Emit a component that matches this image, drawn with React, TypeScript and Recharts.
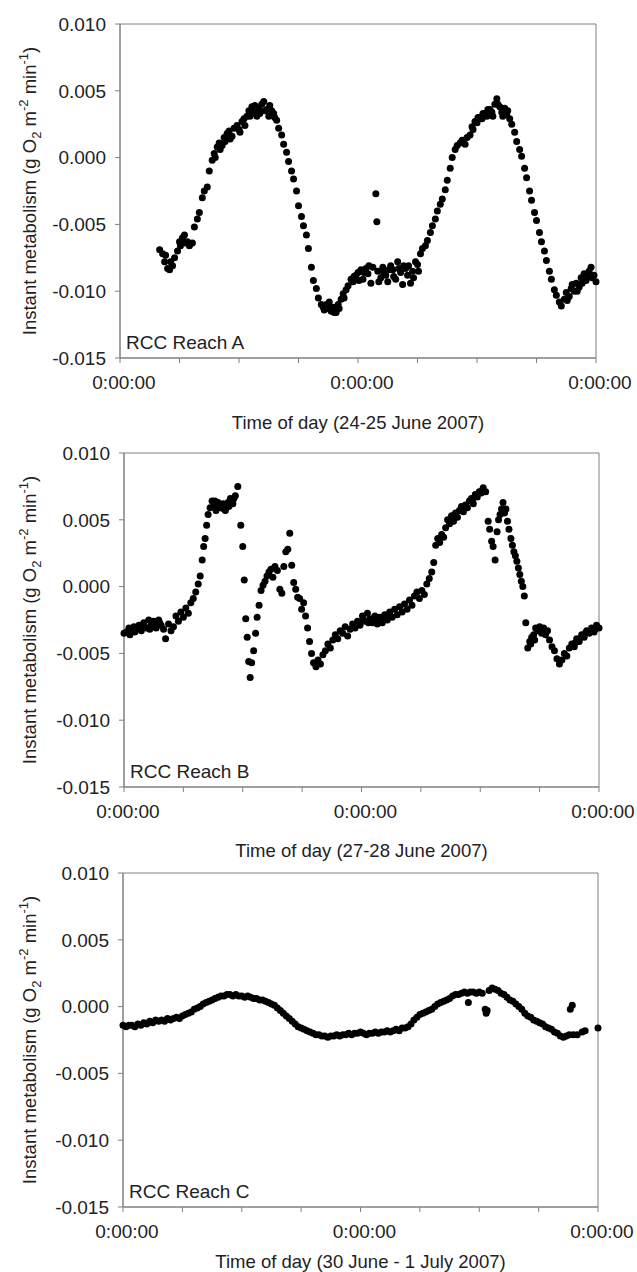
import React from 'react';
import { ScatterChart, Scatter, XAxis, YAxis, ReferenceArea } from 'recharts';

// [hour since first midnight, instant metabolism g O2 m-2 min-1]
type Pt = [number, number];

const reachA: Pt[] = [
  [4.0, -0.0069], [4.3, -0.0072], [4.5, -0.0078], [4.6, -0.0073], [4.8, -0.0083], [5.0, -0.0084],
  [5.1, -0.0078], [5.3, -0.0081], [5.5, -0.0075], [5.8, -0.007], [6.0, -0.0063], [6.1, -0.0066],
  [6.3, -0.006], [6.5, -0.0058], [6.6, -0.0064], [6.8, -0.0063], [7.0, -0.0066], [7.3, -0.0064],
  [7.5, -0.0052], [7.8, -0.0046], [8.0, -0.0041], [8.3, -0.003], [8.5, -0.0025], [8.8, -0.0022],
  [9.0, -0.001], [9.3, -0.0002], [9.5, 0.0003], [9.6, 0.0], [9.8, 0.0008], [10.0, 0.0011],
  [10.1, 0.0006], [10.3, 0.0009], [10.5, 0.0015], [10.6, 0.0012], [10.8, 0.0018], [11.0, 0.002],
  [11.1, 0.0014], [11.3, 0.0016], [11.5, 0.0022], [11.8, 0.0024], [12.0, 0.0021], [12.1, 0.0019],
  [12.3, 0.0027], [12.5, 0.0029], [12.6, 0.0024], [12.8, 0.0031], [13.0, 0.0035], [13.1, 0.0031],
  [13.3, 0.0038], [13.5, 0.0034], [13.6, 0.0039], [13.8, 0.0031], [14.0, 0.0037], [14.1, 0.0033],
  [14.3, 0.004], [14.5, 0.0042], [14.6, 0.0035], [14.8, 0.0036], [15.0, 0.0031], [15.1, 0.0039],
  [15.3, 0.0035], [15.5, 0.0033], [15.6, 0.003], [15.8, 0.0028], [16.0, 0.0022], [16.3, 0.0017],
  [16.5, 0.001], [16.8, 0.0004], [17.0, -0.0003], [17.3, -0.001], [17.5, -0.0016], [17.8, -0.0025],
  [18.0, -0.0036], [18.3, -0.0044], [18.5, -0.0051], [18.8, -0.0058], [19.0, -0.0068], [19.3, -0.0082],
  [19.5, -0.0092], [19.8, -0.0098], [20.0, -0.0105], [20.3, -0.011], [20.5, -0.0112], [20.6, -0.0114],
  [20.8, -0.011], [21.0, -0.0113], [21.1, -0.0108], [21.3, -0.0115], [21.5, -0.0112], [21.6, -0.0116],
  [21.8, -0.0116], [22.0, -0.011], [22.1, -0.0113], [22.3, -0.0106], [22.5, -0.0102], [22.6, -0.0105],
  [22.8, -0.0099], [23.0, -0.0096], [23.3, -0.0091], [23.5, -0.0093], [23.6, -0.0089], [23.8, -0.0088],
  [24.0, -0.0086], [24.1, -0.0092], [24.3, -0.0084], [24.5, -0.0091], [24.6, -0.0086], [24.8, -0.0083],
  [25.0, -0.0087], [25.1, -0.0081], [25.3, -0.0094], [25.5, -0.0082], [25.8, -0.0027], [25.9, -0.0048],
  [26.0, -0.0085], [26.1, -0.0093], [26.3, -0.009], [26.5, -0.0082], [26.6, -0.0086], [26.8, -0.0088],
  [27.0, -0.0093], [27.1, -0.0084], [27.3, -0.0081], [27.5, -0.0084], [27.6, -0.0089], [27.8, -0.0091],
  [28.0, -0.0078], [28.1, -0.0083], [28.3, -0.0086], [28.5, -0.0095], [28.6, -0.0081], [28.8, -0.0083],
  [29.0, -0.0088], [29.1, -0.0081], [29.3, -0.0094], [29.5, -0.0085], [29.6, -0.009], [29.8, -0.0078],
  [30.0, -0.008], [30.1, -0.0085], [30.3, -0.0072], [30.5, -0.0068], [30.8, -0.0066], [31.0, -0.0062],
  [31.3, -0.0056], [31.5, -0.0051], [31.8, -0.0046], [32.0, -0.004], [32.3, -0.0035], [32.5, -0.0031],
  [32.8, -0.0024], [33.0, -0.0017], [33.3, -0.0008], [33.5, 0.0], [33.8, 0.0006], [34.0, 0.0009],
  [34.3, 0.0011], [34.5, 0.0013], [34.8, 0.001], [35.0, 0.0015], [35.3, 0.0017], [35.5, 0.0023],
  [35.6, 0.0021], [35.8, 0.0027], [36.0, 0.0026], [36.1, 0.003], [36.3, 0.003], [36.5, 0.0029],
  [36.6, 0.0033], [36.8, 0.0033], [37.0, 0.0031], [37.1, 0.0036], [37.3, 0.0036], [37.5, 0.0034],
  [37.6, 0.0031], [37.8, 0.004], [38.0, 0.0044], [38.1, 0.004], [38.3, 0.0038], [38.5, 0.0034],
  [38.6, 0.0031], [38.8, 0.0037], [39.0, 0.0032], [39.1, 0.0035], [39.3, 0.0029], [39.5, 0.0025],
  [39.8, 0.0019], [40.0, 0.0012], [40.3, 0.0006], [40.5, 0.0001], [40.8, -0.0008], [41.0, -0.0015],
  [41.3, -0.0025], [41.5, -0.0032], [41.8, -0.0041], [42.0, -0.0047], [42.3, -0.0056], [42.5, -0.0063],
  [42.8, -0.007], [43.0, -0.0077], [43.3, -0.0085], [43.5, -0.0091], [43.8, -0.0099], [44.0, -0.0103],
  [44.3, -0.0108], [44.5, -0.0111], [44.8, -0.0106], [45.0, -0.0101], [45.1, -0.0107], [45.3, -0.0104],
  [45.5, -0.0098], [45.6, -0.0095], [45.8, -0.01], [46.0, -0.0094], [46.1, -0.01], [46.3, -0.0097],
  [46.5, -0.009], [46.6, -0.0094], [46.8, -0.0087], [47.0, -0.0092], [47.1, -0.0088], [47.3, -0.0085],
  [47.5, -0.0082], [47.6, -0.009], [47.8, -0.0088], [48.0, -0.0093],
];

const reachB: Pt[] = [
  [0.0, -0.0035], [0.25, -0.0034], [0.5, -0.0031], [0.6, -0.0036], [0.75, -0.0033], [1.0, -0.003],
  [1.1, -0.0034], [1.25, -0.0032], [1.5, -0.0029], [1.6, -0.0031], [1.75, -0.0033], [2.0, -0.0027],
  [2.1, -0.003], [2.25, -0.0031], [2.5, -0.0025], [2.6, -0.0032], [2.75, -0.0029], [3.0, -0.0026],
  [3.1, -0.0029], [3.25, -0.0031], [3.5, -0.0025], [3.6, -0.0027], [3.75, -0.0029], [4.0, -0.0032],
  [4.2, -0.0039], [4.5, -0.0028], [4.75, -0.0033], [5.0, -0.003], [5.25, -0.0022], [5.5, -0.0026],
  [5.75, -0.0019], [6.0, -0.0023], [6.25, -0.0016], [6.5, -0.002], [6.75, -0.0012], [7.0, -0.0009],
  [7.25, -0.0004], [7.5, 0.0002], [7.7, 0.0008], [7.9, 0.002], [8.05, 0.003], [8.2, 0.0036],
  [8.35, 0.0046], [8.5, 0.0054], [8.7, 0.0059], [8.9, 0.0064], [9.1, 0.0061], [9.2, 0.0064],
  [9.3, 0.0057], [9.5, 0.0063], [9.6, 0.006], [9.75, 0.0059], [10.0, 0.0062], [10.1, 0.0058],
  [10.25, 0.0057], [10.5, 0.0063], [10.6, 0.006], [10.75, 0.0066], [11.0, 0.0062], [11.1, 0.0066],
  [11.25, 0.0068], [11.5, 0.0075], [11.8, 0.0046], [12.0, 0.003], [12.15, 0.0005], [12.3, -0.0024],
  [12.45, -0.0038], [12.6, -0.0056], [12.75, -0.0068], [12.9, -0.0057], [13.1, -0.0048], [13.3, -0.0035],
  [13.45, -0.0023], [13.65, -0.0014], [13.85, -0.0003], [14.05, 0.0001], [14.25, 0.0004], [14.45, 0.0008],
  [14.65, 0.0011], [14.85, 0.0013], [15.05, 0.0007], [15.25, 0.0015], [15.5, 0.0012], [15.75, -0.0002],
  [15.95, -0.0005], [16.15, 0.0015], [16.35, 0.0026], [16.55, 0.0028], [16.75, 0.004], [16.95, 0.0016],
  [17.15, 0.0003], [17.35, -0.0002], [17.55, -0.0008], [17.75, -0.0009], [17.95, -0.0017], [18.15, -0.0012],
  [18.35, -0.0022], [18.55, -0.0031], [18.75, -0.0041], [18.95, -0.005], [19.15, -0.0057], [19.4, -0.006],
  [19.6, -0.0055], [19.85, -0.0058], [20.1, -0.0051], [20.35, -0.0048], [20.6, -0.0043], [20.85, -0.0046],
  [21.1, -0.004], [21.35, -0.0036], [21.6, -0.0039], [21.85, -0.0033], [22.1, -0.0035], [22.35, -0.003],
  [22.6, -0.0037], [22.85, -0.0032], [23.1, -0.0028], [23.35, -0.0031], [23.6, -0.0026], [23.85, -0.0029],
  [24.1, -0.0022], [24.2, -0.0025], [24.35, -0.0026], [24.6, -0.002], [24.7, -0.0027], [24.85, -0.0024],
  [25.1, -0.0027], [25.2, -0.0024], [25.35, -0.0022], [25.6, -0.0028], [25.7, -0.0025], [25.85, -0.0023],
  [26.1, -0.0027], [26.2, -0.0024], [26.35, -0.0021], [26.6, -0.0025], [26.7, -0.0022], [26.85, -0.0019],
  [27.1, -0.0023], [27.35, -0.0017], [27.6, -0.0021], [27.85, -0.0015], [28.1, -0.0019], [28.35, -0.0013],
  [28.6, -0.0017], [28.85, -0.001], [29.1, -0.0014], [29.35, -0.0007], [29.6, -0.0004], [29.85, -0.0009],
  [30.1, -0.0003], [30.35, -0.0006], [30.6, 0.0002], [30.85, 0.0006], [31.1, 0.0011], [31.3, 0.0018],
  [31.5, 0.0031], [31.7, 0.0036], [31.9, 0.0033], [32.1, 0.0039], [32.3, 0.0037], [32.5, 0.0044],
  [32.7, 0.005], [32.9, 0.0047], [33.1, 0.0053], [33.2, 0.005], [33.3, 0.0049], [33.5, 0.0055],
  [33.7, 0.0052], [33.9, 0.0057], [34.1, 0.006], [34.2, 0.0058], [34.3, 0.0056], [34.5, 0.0061],
  [34.7, 0.0059], [34.9, 0.0064], [35.1, 0.0066], [35.2, 0.0064], [35.3, 0.0062], [35.5, 0.0069],
  [35.7, 0.0067], [35.9, 0.0071], [36.1, 0.007], [36.2, 0.0072], [36.3, 0.0074], [36.55, 0.0071],
  [36.8, 0.0049], [36.95, 0.0043], [37.15, 0.0034], [37.3, 0.003], [37.5, 0.002], [37.7, 0.0041],
  [37.85, 0.005], [38.0, 0.0054], [38.15, 0.0058], [38.3, 0.0063], [38.45, 0.0055], [38.6, 0.0058],
  [38.75, 0.0049], [38.9, 0.0043], [39.1, 0.0036], [39.25, 0.0031], [39.4, 0.0026], [39.55, 0.0023],
  [39.7, 0.0019], [39.85, 0.0014], [40.0, 0.0009], [40.15, 0.0004], [40.3, 0.0], [40.45, -0.0007],
  [40.6, -0.0027], [40.8, -0.0046], [41.0, -0.0041], [41.1, -0.0043], [41.2, -0.0038], [41.4, -0.0036],
  [41.5, -0.004], [41.6, -0.0031], [41.8, -0.0033], [42.0, -0.003], [42.2, -0.0035], [42.4, -0.0031],
  [42.6, -0.0036], [42.8, -0.0033], [43.0, -0.004], [43.25, -0.0045], [43.5, -0.0048], [43.75, -0.0054],
  [44.0, -0.0058], [44.25, -0.0055], [44.5, -0.005], [44.75, -0.0052], [45.0, -0.0046], [45.25, -0.0043],
  [45.5, -0.0045], [45.6, -0.0042], [45.75, -0.0039], [46.0, -0.0041], [46.25, -0.0036], [46.5, -0.0038],
  [46.6, -0.0035], [46.75, -0.0033], [47.0, -0.0035], [47.25, -0.0031], [47.5, -0.0034], [47.6, -0.0032],
  [47.75, -0.0029], [48.0, -0.0031],
];

const reachC: Pt[] = [
  [0.0, -0.0014], [0.3, -0.0015], [0.6, -0.0014], [0.9, -0.0014], [1.2, -0.0015], [1.5, -0.0013],
  [1.8, -0.0014], [2.1, -0.0012], [2.4, -0.0013], [2.7, -0.0011], [3.0, -0.0012], [3.3, -0.001],
  [3.6, -0.0011], [3.9, -0.001], [4.2, -0.0011], [4.5, -0.0009], [4.8, -0.001], [5.1, -0.0009],
  [5.4, -0.0008], [5.7, -0.0009], [6.0, -0.0007], [6.3, -0.0006], [6.6, -0.0005], [6.9, -0.0004],
  [7.2, -0.0002], [7.5, -0.0001], [7.8, 0.0], [8.1, 0.0002], [8.4, 0.0003], [8.7, 0.0004],
  [9.0, 0.0005], [9.3, 0.0006], [9.6, 0.0007], [9.9, 0.0008], [10.2, 0.0008], [10.5, 0.0009],
  [10.8, 0.0009], [11.1, 0.0008], [11.4, 0.0009], [11.7, 0.0008], [12.0, 0.0008], [12.3, 0.0007],
  [12.6, 0.0008], [12.9, 0.0007], [13.2, 0.0006], [13.5, 0.0006], [13.8, 0.0005], [14.1, 0.0005],
  [14.4, 0.0004], [14.7, 0.0003], [15.0, 0.0002], [15.3, 0.0001], [15.6, -0.0001], [15.9, -0.0003],
  [16.2, -0.0005], [16.5, -0.0007], [16.8, -0.0009], [17.1, -0.0011], [17.4, -0.0013], [17.7, -0.0015],
  [18.0, -0.0016], [18.3, -0.0017], [18.6, -0.0018], [18.9, -0.0019], [19.2, -0.002], [19.5, -0.0021],
  [19.8, -0.0021], [20.1, -0.0022], [20.4, -0.0022], [20.7, -0.0023], [21.0, -0.0022], [21.3, -0.0022],
  [21.6, -0.0021], [21.9, -0.0022], [22.2, -0.0021], [22.5, -0.0021], [22.8, -0.002], [23.1, -0.0021],
  [23.4, -0.002], [23.7, -0.002], [24.0, -0.0019], [24.3, -0.002], [24.6, -0.0021], [24.9, -0.002],
  [25.2, -0.002], [25.5, -0.0019], [25.8, -0.002], [26.1, -0.0019], [26.4, -0.0019], [26.7, -0.0018],
  [27.0, -0.0019], [27.3, -0.0018], [27.6, -0.0017], [27.9, -0.0018], [28.2, -0.0016], [28.5, -0.0016],
  [28.8, -0.0015], [29.1, -0.0013], [29.4, -0.001], [29.7, -0.0008], [30.0, -0.0006], [30.3, -0.0005],
  [30.6, -0.0004], [30.9, -0.0003], [31.2, -0.0002], [31.5, 0.0], [31.8, 0.0002], [32.1, 0.0003],
  [32.4, 0.0004], [32.7, 0.0005], [33.0, 0.0006], [33.3, 0.0008], [33.6, 0.0009], [33.9, 0.0009],
  [34.2, 0.001], [34.5, 0.0011], [34.8, 0.001], [34.9, 0.0003], [35.1, 0.0011], [35.4, 0.0011],
  [35.7, 0.001], [36.0, 0.0011], [36.3, 0.001], [36.6, -0.0002], [36.7, -0.0005], [36.8, -0.0003],
  [37.0, 0.0012], [37.3, 0.0014], [37.6, 0.0013], [37.9, 0.0012], [38.2, 0.001], [38.5, 0.0009],
  [38.8, 0.0007], [39.1, 0.0005], [39.4, 0.0004], [39.7, 0.0002], [40.0, 0.0], [40.3, -0.0002],
  [40.6, -0.0005], [40.9, -0.0007], [41.2, -0.0008], [41.5, -0.001], [41.8, -0.0011], [42.1, -0.0012],
  [42.4, -0.0013], [42.7, -0.0015], [43.0, -0.0016], [43.3, -0.0017], [43.6, -0.0019], [43.9, -0.002],
  [44.2, -0.0022], [44.5, -0.0023], [44.8, -0.0022], [45.1, -0.0021], [45.2, -0.0002], [45.4, 0.0001],
  [45.5, -0.0021], [45.9, -0.0021], [46.4, -0.0019], [46.7, -0.0018], [48.0, -0.0016],
];

const reachNames = ['RCC Reach A', 'RCC Reach B', 'RCC Reach C'];
const periods = [
  'Time of day (24-25 June 2007)',
  'Time of day (27-28 June 2007)',
  'Time of day (30 June - 1 July 2007)',
];
const hourTicks = [0, 6, 12, 18, 24, 30, 36, 42, 48];
const valueTicks = [-0.015, -0.01, -0.005, 0, 0.005, 0.01];
const midnightLabel = '0:00:00';

// where each panel sits on the page
const layout = [
  { top: 0, height: 440, axisWidth: 120, right: 41, titleGap: 71 },
  { top: 429, height: 440, axisWidth: 124, right: 38, titleGap: 70 },
  { top: 849, height: 423, axisWidth: 123, right: 39, titleGap: 61 },
];

const FONT = '"Liberation Sans", Arial, sans-serif';
const INK = '#222';
const FRAME = '#808080';

const Dot = (props: any) => <circle cx={props.cx} cy={props.cy} r={3.5} fill="#000" />;

function XTitle(props: any) {
  const vb = props.viewBox || {};
  return (
    <text x={vb.x + vb.width / 2} y={vb.y + props.gap} textAnchor="middle" fontSize={18.5} fill={INK}>
      {props.caption}
    </text>
  );
}

function YTitle(props: any) {
  const vb = props.viewBox || {};
  const cy = vb.y + vb.height / 2;
  return (
    <text transform={`translate(36, ${cy}) rotate(-90)`} textAnchor="middle" fontSize={18.5} fill={INK}>
      <tspan>Instant metabolism (g O</tspan>
      <tspan fontSize={13} dy={5}>2</tspan>
      <tspan dy={-5}> m</tspan>
      <tspan fontSize={13} dy={-8}>-2</tspan>
      <tspan dy={8}> min</tspan>
      <tspan fontSize={13} dy={-8}>-1</tspan>
      <tspan dy={8}>)</tspan>
    </text>
  );
}

function CornerLabel(props: any) {
  const vb = props.viewBox || {};
  return (
    <text x={vb.x + 6} y={vb.y + vb.height - 9} fontSize={19} fill={INK}>
      {props.caption}
    </text>
  );
}

function Panel({ points, name, period, pos }: { points: Pt[]; name: string; period: string; pos: any }) {
  const data = points.map(([h, v]) => ({ h, v }));
  const plotTop = 24;
  const plotHeight = 334;
  return (
    <div style={{ position: 'absolute', left: 0, top: pos.top }}>
      <ScatterChart width={637} height={pos.height} margin={{ top: plotTop, right: pos.right, bottom: 0, left: 0 }}>
        <XAxis
          type="number"
          dataKey="h"
          domain={[0, 48]}
          ticks={hourTicks}
          interval={0}
          tickFormatter={(h: number) => (h % 24 === 0 ? midnightLabel : '')}
          stroke={FRAME}
          tickSize={5}
          tickMargin={13}
          height={pos.height - plotTop - plotHeight}
          tick={{ fill: INK, fontSize: 19, dx: 4 }}
          label={<XTitle caption={period} gap={pos.titleGap} />}
        />
        <YAxis
          type="number"
          dataKey="v"
          domain={[-0.015, 0.01]}
          ticks={valueTicks}
          interval={0}
          tickFormatter={(v: number) => v.toFixed(3)}
          width={pos.axisWidth}
          stroke={FRAME}
          tickSize={5}
          tickMargin={9}
          tick={{ fill: INK, fontSize: 19 }}
          label={<YTitle />}
        />
        <ReferenceArea
          x1={0}
          x2={48}
          y1={-0.015}
          y2={0.01}
          fill="none"
          stroke={FRAME}
          strokeWidth={1}
          label={<CornerLabel caption={name} />}
        />
        <Scatter data={data} shape={Dot} isAnimationActive={false} />
      </ScatterChart>
    </div>
  );
}

export default function App() {
  const series = [reachA, reachB, reachC];
  return (
    <div
      style={{
        position: 'absolute',
        left: 0,
        top: 0,
        width: 637,
        height: 1272,
        background: '#fff',
        fontFamily: FONT,
      }}
    >
      {series.map((pts, i) => (
        <Panel key={reachNames[i]} points={pts} name={reachNames[i]} period={periods[i]} pos={layout[i]} />
      ))}
    </div>
  );
}
